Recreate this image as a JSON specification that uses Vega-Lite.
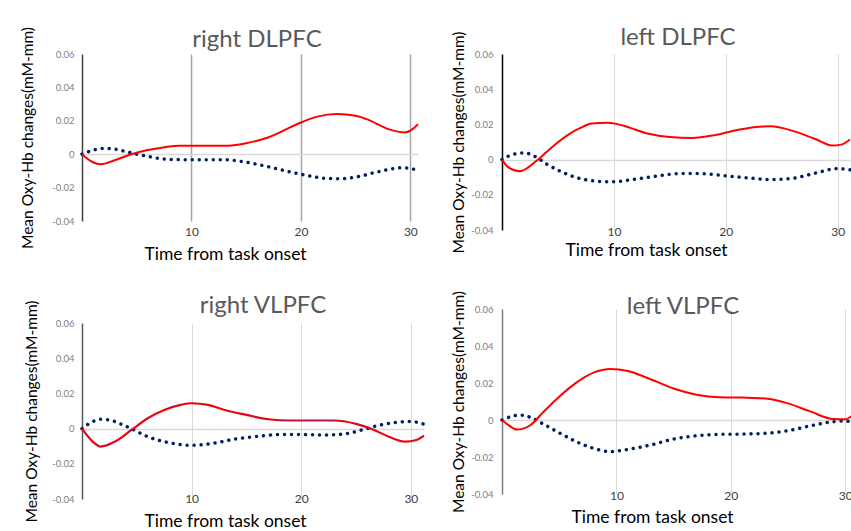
{
  "$schema": "https://vega.github.io/schema/vega-lite/v6.json",
  "padding": {"left": 20, "top": 25, "right": 0, "bottom": 0},
  "background": "white",
  "config": {"view": {"stroke": null}, "font": "Lato",
    "axisY": {"labelExpr": "datum.value == 0 ? '0' : (datum.value < 0 ? '-' : '') + format(abs(datum.value), '.2f')", "grid": true, "gridColor": "#d9d9d9", "gridWidth": 1.5, "ticks": false, "tickSize": 0, "labelOverlap": false, "labelFlush": false, "labelBound": false, "domainWidth": 1.5, "labelFontSize": 9.5, "labelColor": "#808080", "titleFontSize": 15.5, "titleFontWeight": "normal", "titleColor": "#000000"},
    "axisX": {"grid": true, "domain": false, "ticks": false, "tickSize": 0, "labelOverlap": false, "labelFlush": false, "labelFontSize": 12, "labelColor": "#404040", "titleFontSize": 17.5, "titleFontWeight": "normal", "titleColor": "#000000", "titleAlign": "center"},
    "title": {"fontSize": 24, "fontWeight": "normal", "color": "#595959", "anchor": "middle", "frame": "group", "offset": 4, "baseline": "alphabetic"}
  },
  "datasets": {
    "p1": [
      {"t": 0, "s": "red", "v": 0}, {"t": 1, "s": "red", "v": -0.0048}, {"t": 1.7, "s": "red", "v": -0.006}, {"t": 3, "s": "red", "v": -0.0036}, {"t": 4.5, "s": "red", "v": 0}, {"t": 6, "s": "red", "v": 0.0025}, {"t": 7, "s": "red", "v": 0.0036}, {"t": 8.8, "s": "red", "v": 0.005}, {"t": 10, "s": "red", "v": 0.005}, {"t": 13, "s": "red", "v": 0.005}, {"t": 15, "s": "red", "v": 0.0066}, {"t": 17, "s": "red", "v": 0.01}, {"t": 20, "s": "red", "v": 0.019}, {"t": 21.5, "s": "red", "v": 0.0225}, {"t": 23.3, "s": "red", "v": 0.024}, {"t": 25, "s": "red", "v": 0.023}, {"t": 26, "s": "red", "v": 0.021}, {"t": 28, "s": "red", "v": 0.015}, {"t": 29.5, "s": "red", "v": 0.013}, {"t": 30.2, "s": "red", "v": 0.015}, {"t": 30.7, "s": "red", "v": 0.018},
      {"t": 0, "s": "navy", "v": 0}, {"t": 1, "s": "navy", "v": 0.0024}, {"t": 2, "s": "navy", "v": 0.0035}, {"t": 3, "s": "navy", "v": 0.003}, {"t": 4, "s": "navy", "v": 0.0016}, {"t": 5, "s": "navy", "v": 0}, {"t": 6, "s": "navy", "v": -0.0013}, {"t": 7, "s": "navy", "v": -0.0025}, {"t": 8.5, "s": "navy", "v": -0.0032}, {"t": 10, "s": "navy", "v": -0.0033}, {"t": 13, "s": "navy", "v": -0.0033}, {"t": 15, "s": "navy", "v": -0.0048}, {"t": 17, "s": "navy", "v": -0.0075}, {"t": 19, "s": "navy", "v": -0.0106}, {"t": 20, "s": "navy", "v": -0.012}, {"t": 22, "s": "navy", "v": -0.0143}, {"t": 23.5, "s": "navy", "v": -0.0147}, {"t": 25, "s": "navy", "v": -0.0137}, {"t": 27, "s": "navy", "v": -0.0106}, {"t": 29.3, "s": "navy", "v": -0.0081}, {"t": 30.7, "s": "navy", "v": -0.0096}
    ],
    "p2": [
      {"t": 0, "s": "red", "v": 0}, {"t": 0.5, "s": "red", "v": -0.004}, {"t": 1.6, "s": "red", "v": -0.0066}, {"t": 3, "s": "red", "v": -0.0011}, {"t": 4, "s": "red", "v": 0.0044}, {"t": 5, "s": "red", "v": 0.0099}, {"t": 6, "s": "red", "v": 0.0145}, {"t": 7, "s": "red", "v": 0.018}, {"t": 8, "s": "red", "v": 0.0205}, {"t": 9.5, "s": "red", "v": 0.021}, {"t": 11, "s": "red", "v": 0.019}, {"t": 13, "s": "red", "v": 0.0148}, {"t": 15, "s": "red", "v": 0.0128}, {"t": 17, "s": "red", "v": 0.0123}, {"t": 19, "s": "red", "v": 0.0139}, {"t": 21, "s": "red", "v": 0.0168}, {"t": 23, "s": "red", "v": 0.0187}, {"t": 24, "s": "red", "v": 0.0189}, {"t": 26, "s": "red", "v": 0.0163}, {"t": 28, "s": "red", "v": 0.0117}, {"t": 29.5, "s": "red", "v": 0.008}, {"t": 30.3, "s": "red", "v": 0.0085}, {"t": 31.1, "s": "red", "v": 0.0114},
      {"t": 0, "s": "navy", "v": 0}, {"t": 1, "s": "navy", "v": 0.003}, {"t": 2, "s": "navy", "v": 0.0038}, {"t": 3, "s": "navy", "v": 0.0016}, {"t": 4, "s": "navy", "v": -0.0026}, {"t": 5, "s": "navy", "v": -0.006}, {"t": 6, "s": "navy", "v": -0.0088}, {"t": 7, "s": "navy", "v": -0.0108}, {"t": 8.5, "s": "navy", "v": -0.0123}, {"t": 10, "s": "navy", "v": -0.0126}, {"t": 12, "s": "navy", "v": -0.011}, {"t": 14, "s": "navy", "v": -0.0092}, {"t": 16, "s": "navy", "v": -0.0079}, {"t": 18, "s": "navy", "v": -0.008}, {"t": 20, "s": "navy", "v": -0.0092}, {"t": 22, "s": "navy", "v": -0.0104}, {"t": 24, "s": "navy", "v": -0.0113}, {"t": 26, "s": "navy", "v": -0.0106}, {"t": 28, "s": "navy", "v": -0.0077}, {"t": 30, "s": "navy", "v": -0.0051}, {"t": 31.1, "s": "navy", "v": -0.0058}
    ],
    "p3": [
      {"t": 0, "s": "red", "v": 0}, {"t": 1, "s": "red", "v": -0.0075}, {"t": 1.7, "s": "red", "v": -0.0102}, {"t": 3, "s": "red", "v": -0.0074}, {"t": 4.5, "s": "red", "v": -0.0008}, {"t": 6, "s": "red", "v": 0.0059}, {"t": 7.5, "s": "red", "v": 0.0106}, {"t": 9, "s": "red", "v": 0.0135}, {"t": 10, "s": "red", "v": 0.0144}, {"t": 11.5, "s": "red", "v": 0.0135}, {"t": 13, "s": "red", "v": 0.0106}, {"t": 15, "s": "red", "v": 0.0078}, {"t": 17, "s": "red", "v": 0.0053}, {"t": 19, "s": "red", "v": 0.0046}, {"t": 21, "s": "red", "v": 0.0046}, {"t": 23, "s": "red", "v": 0.0046}, {"t": 25, "s": "red", "v": 0.0027}, {"t": 26.5, "s": "red", "v": -0.0004}, {"t": 28, "s": "red", "v": -0.0046}, {"t": 29.5, "s": "red", "v": -0.0074}, {"t": 30.5, "s": "red", "v": -0.0065}, {"t": 31.2, "s": "red", "v": -0.004},
      {"t": 0, "s": "navy", "v": 0}, {"t": 1, "s": "navy", "v": 0.004}, {"t": 1.7, "s": "navy", "v": 0.0053}, {"t": 2.5, "s": "navy", "v": 0.0049}, {"t": 3.5, "s": "navy", "v": 0.0027}, {"t": 4.5, "s": "navy", "v": 0}, {"t": 6, "s": "navy", "v": -0.0046}, {"t": 7.5, "s": "navy", "v": -0.0074}, {"t": 9, "s": "navy", "v": -0.0091}, {"t": 10, "s": "navy", "v": -0.0095}, {"t": 12, "s": "navy", "v": -0.0083}, {"t": 14, "s": "navy", "v": -0.0059}, {"t": 16, "s": "navy", "v": -0.0044}, {"t": 18, "s": "navy", "v": -0.0034}, {"t": 20, "s": "navy", "v": -0.0034}, {"t": 22, "s": "navy", "v": -0.0036}, {"t": 24, "s": "navy", "v": -0.003}, {"t": 25.5, "s": "navy", "v": -0.0008}, {"t": 27, "s": "navy", "v": 0.0017}, {"t": 28.5, "s": "navy", "v": 0.0034}, {"t": 30, "s": "navy", "v": 0.004}, {"t": 31.2, "s": "navy", "v": 0.0025}
    ],
    "p4": [
      {"t": 0, "s": "red", "v": 0}, {"t": 1, "s": "red", "v": -0.0045}, {"t": 1.3, "s": "red", "v": -0.0052}, {"t": 2.5, "s": "red", "v": -0.0027}, {"t": 3.5, "s": "red", "v": 0.0036}, {"t": 5, "s": "red", "v": 0.0126}, {"t": 6.5, "s": "red", "v": 0.0202}, {"t": 8, "s": "red", "v": 0.0256}, {"t": 9.5, "s": "red", "v": 0.0276}, {"t": 11, "s": "red", "v": 0.0265}, {"t": 13, "s": "red", "v": 0.022}, {"t": 15, "s": "red", "v": 0.017}, {"t": 17, "s": "red", "v": 0.0137}, {"t": 19, "s": "red", "v": 0.0123}, {"t": 21, "s": "red", "v": 0.0121}, {"t": 23, "s": "red", "v": 0.0116}, {"t": 25, "s": "red", "v": 0.009}, {"t": 27, "s": "red", "v": 0.0045}, {"t": 29, "s": "red", "v": 0.0005}, {"t": 30, "s": "red", "v": 0.0004}, {"t": 30.6, "s": "red", "v": 0.0022},
      {"t": 0, "s": "navy", "v": 0}, {"t": 1, "s": "navy", "v": 0.0022}, {"t": 1.5, "s": "navy", "v": 0.0027}, {"t": 2.5, "s": "navy", "v": 0.0014}, {"t": 3.5, "s": "navy", "v": -0.0018}, {"t": 5, "s": "navy", "v": -0.0069}, {"t": 6.5, "s": "navy", "v": -0.0117}, {"t": 8, "s": "navy", "v": -0.0153}, {"t": 9.5, "s": "navy", "v": -0.0171}, {"t": 11, "s": "navy", "v": -0.0159}, {"t": 13, "s": "navy", "v": -0.0135}, {"t": 15, "s": "navy", "v": -0.0103}, {"t": 17, "s": "navy", "v": -0.0085}, {"t": 19, "s": "navy", "v": -0.0078}, {"t": 21, "s": "navy", "v": -0.0076}, {"t": 23, "s": "navy", "v": -0.0072}, {"t": 25, "s": "navy", "v": -0.0058}, {"t": 27, "s": "navy", "v": -0.0031}, {"t": 29, "s": "navy", "v": -0.0009}, {"t": 30, "s": "navy", "v": -0.0004}, {"t": 30.6, "s": "navy", "v": -0.0015}
    ]
  },
  "spacing": 20,
  "hconcat": [
    {
      "spacing": 30,
      "vconcat": [
        {
          "width": 336, "height": 167,
          "title": {"text": "right DLPFC", "dx": 7, "dy": 30},
          "data": {"name": "p1"},
          "layer": [
            {"transform": [{"filter": "datum.s == 'navy'"}],
             "mark": {"type": "line", "color": "#002060", "strokeWidth": 3.5, "strokeDash": [0.01, 7], "strokeCap": "round", "interpolate": "monotone"},
             "encoding": {
               "x": {"field": "t", "type": "quantitative", "scale": {"domain": [0, 30.7], "nice": false},
                 "axis": {"values": [10, 20, 30], "tickCount": 10, "title": "Time from task onset", "gridColor": "#a6a6a6", "gridWidth": 1.5, "labelPadding": 5, "titlePadding": 8, "titleX": 143}},
               "y": {"field": "v", "type": "quantitative", "scale": {"domain": [-0.04, 0.06], "nice": false, "zero": false},
                 "axis": {"values": [-0.04, -0.02, 0, 0.02, 0.04, 0.06], "tickCount": 10, "labelOverlap": false, "gridOpacity": {"condition": {"test": "datum.value === 0", "value": 1}, "value": 0}, "title": "Mean Oxy-Hb changes(mM-mm)", "domainColor": "#404040", "labelPadding": 8, "titlePadding": 16}}}},
            {"transform": [{"filter": "datum.s == 'red'"}],
             "mark": {"type": "line", "color": "#ff0000", "strokeWidth": 2, "interpolate": "monotone"},
             "encoding": {"x": {"field": "t", "type": "quantitative"}, "y": {"field": "v", "type": "quantitative"}}}
          ]
        },
        {
          "width": 342, "height": 176,
          "title": {"text": "right VLPFC", "dx": 10, "dy": 22},
          "data": {"name": "p3"},
          "layer": [
            {"transform": [{"filter": "datum.s == 'navy'"}],
             "mark": {"type": "line", "color": "#002060", "strokeWidth": 3.5, "strokeDash": [0.01, 7], "strokeCap": "round", "interpolate": "monotone"},
             "encoding": {
               "x": {"field": "t", "type": "quantitative", "scale": {"domain": [0, 31.2], "nice": false},
                 "axis": {"values": [10, 20, 30], "tickCount": 10, "title": "Time from task onset", "gridColor": "#d9d9d9", "gridWidth": 1, "labelPadding": -6, "titlePadding": 8, "titleX": 143}},
               "y": {"field": "v", "type": "quantitative", "scale": {"domain": [-0.04, 0.06], "nice": false, "zero": false},
                 "axis": {"values": [-0.04, -0.02, 0, 0.02, 0.04, 0.06], "tickCount": 10, "labelOverlap": false, "gridOpacity": {"condition": {"test": "datum.value === 0", "value": 1}, "value": 0}, "title": "Mean Oxy-Hb changes(mM-mm)", "domainColor": "#595959", "labelPadding": 8, "titlePadding": 12}}}},
            {"transform": [{"filter": "datum.s == 'red'"}],
             "mark": {"type": "line", "color": "#ff0000", "strokeWidth": 2.2, "interpolate": "monotone"},
             "encoding": {"x": {"field": "t", "type": "quantitative"}, "y": {"field": "v", "type": "quantitative"}}},
            {"transform": [{"filter": "datum.s == 'red'"}],
             "mark": {"type": "line", "color": "#5a2a9a", "strokeWidth": 0.8, "strokeDash": [1.5, 1.5], "interpolate": "monotone"},
             "encoding": {"x": {"field": "t", "type": "quantitative"}, "y": {"field": "v", "type": "quantitative"}}}
          ]
        }
      ]
    },
    {
      "spacing": 31,
      "vconcat": [
        {
          "width": 348, "height": 176,
          "title": {"text": "left DLPFC", "dx": 2, "dy": 23},
          "data": {"name": "p2"},
          "layer": [
            {"transform": [{"filter": "datum.s == 'navy'"}],
             "mark": {"type": "line", "color": "#002060", "strokeWidth": 3.5, "strokeDash": [0.01, 7], "strokeCap": "round", "interpolate": "monotone"},
             "encoding": {
               "x": {"field": "t", "type": "quantitative", "scale": {"domain": [0, 31.1], "nice": false},
                 "axis": {"values": [10, 20, 30], "tickCount": 10, "title": "Time from task onset", "gridColor": "#d9d9d9", "gridWidth": 1, "labelPadding": -4, "titlePadding": 4, "titleX": 144}},
               "y": {"field": "v", "type": "quantitative", "scale": {"domain": [-0.04, 0.06], "nice": false, "zero": false},
                 "axis": {"values": [-0.04, -0.02, 0, 0.02, 0.04, 0.06], "tickCount": 10, "labelOverlap": false, "gridOpacity": {"condition": {"test": "datum.value === 0", "value": 1}, "value": 0}, "title": "Mean Oxy-Hb changes(mM-mm)", "domainColor": "#000000", "labelPadding": 9, "titlePadding": 4}}}},
            {"transform": [{"filter": "datum.s == 'red'"}],
             "mark": {"type": "line", "color": "#ff0000", "strokeWidth": 2, "interpolate": "monotone"},
             "encoding": {"x": {"field": "t", "type": "quantitative"}, "y": {"field": "v", "type": "quantitative"}}}
          ]
        },
        {
          "width": 350, "height": 185,
          "title": {"text": "left VLPFC", "dx": 6, "dy": 33},
          "data": {"name": "p4"},
          "layer": [
            {"transform": [{"filter": "datum.s == 'navy'"}],
             "mark": {"type": "line", "color": "#002060", "strokeWidth": 3.5, "strokeDash": [0.01, 7], "strokeCap": "round", "interpolate": "monotone"},
             "encoding": {
               "x": {"field": "t", "type": "quantitative", "scale": {"domain": [0, 30.6], "nice": false},
                 "axis": {"values": [10, 20, 30], "tickCount": 10, "title": "Time from task onset", "gridColor": "#d9d9d9", "gridWidth": 1, "labelPadding": -4, "titlePadding": 7, "titleX": 150}},
               "y": {"field": "v", "type": "quantitative", "scale": {"domain": [-0.04, 0.06], "nice": false, "zero": false},
                 "axis": {"values": [-0.04, -0.02, 0, 0.02, 0.04, 0.06], "tickCount": 10, "labelOverlap": false, "gridOpacity": {"condition": {"test": "datum.value === 0", "value": 1}, "value": 0}, "title": "Mean Oxy-Hb changes(mM-mm)", "domainColor": "#7f7f7f", "labelPadding": 9, "titlePadding": 4}}}},
            {"transform": [{"filter": "datum.s == 'red'"}],
             "mark": {"type": "line", "color": "#ff0000", "strokeWidth": 2, "interpolate": "monotone"},
             "encoding": {"x": {"field": "t", "type": "quantitative"}, "y": {"field": "v", "type": "quantitative"}}}
          ]
        }
      ]
    }
  ]
}
